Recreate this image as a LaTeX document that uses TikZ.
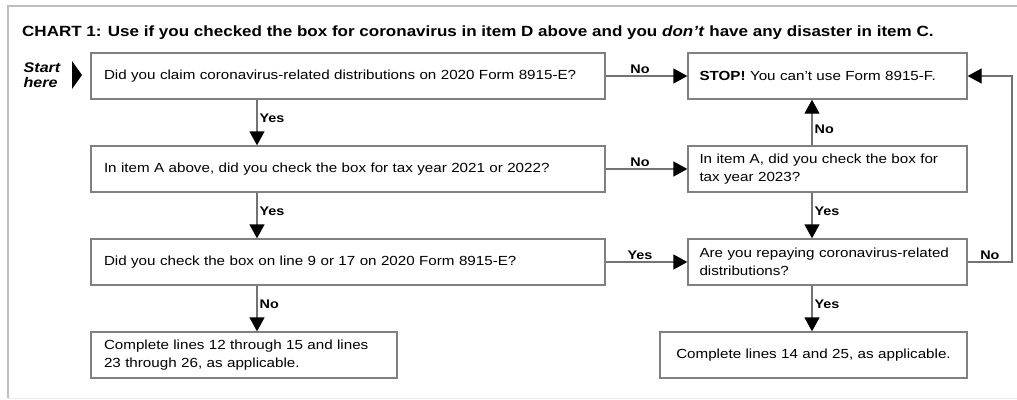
\documentclass[tikz,border=0pt]{standalone}
\usepackage{fontspec}
\setmainfont{Liberation Sans}[FakeStretch=1.15]
\usetikzlibrary{arrows.meta}

\tikzset{
    qbox/.style={rectangle, draw=black!50, line width=1.3pt, minimum height=46pt, inner xsep=13pt, align=left, font=\fontsize{13.2}{17.5}\selectfont},
    arr/.style={draw=black!55, line width=1.3pt, -{Triangle[length=14pt, width=15pt, color=black]}},
    lbl/.style={font=\bfseries\fontsize{12.5}{14}\selectfont, inner sep=2pt}
}

\begin{document}
\begin{tikzpicture}[x=1pt, y=-1pt]
            \useasboundingbox (0, 0) rectangle (1017, 399);
            \draw[black!25, line width=2pt] (1017, 6) -- (8, 6) -- (8, 398);
            \draw[black!8, line width=1pt] (8, 398) -- (1017, 398);

            \node[anchor=base west, font=\bfseries\fontsize{14.8}{16}\selectfont, inner sep=0pt] (title) at (22, 36)
                {CHART 1: Use if you checked the box for coronavirus in item D above and you \textit{don't} have any disaster in item C.};

            \node[align=left, font=\bfseries\itshape\fontsize{14}{15}\selectfont, inner sep=0pt] (start) at (42, 75) {Start\\here};
            \fill (72, 61) -- (82, 75) -- (72, 89) -- cycle;

            % left column
            \node[qbox, text width=488pt] (q1) at (348, 76) {Did you claim coronavirus-related distributions on 2020 Form 8915-E?};
            \node[qbox, text width=488pt] (q2) at (348, 169) {In item A above, did you check the box for tax year 2021 or 2022?};
            \node[qbox, text width=488pt] (q3) at (348, 262) {Did you check the box on line 9 or 17 on 2020 Form 8915-E?};
            \node[qbox, text width=280pt] (endl) at (244, 355) {Complete lines 12 through 15 and lines\\23 through 26, as applicable.};

            % right column
            \node[qbox, text width=256pt, inner xsep=11.5pt] (stop) at (827.5, 76) {\textbf{STOP!} You can't use Form 8915-F.};
            \node[qbox, text width=256pt, inner xsep=11.5pt] (q4) at (827.5, 169) {In item A, did you check the box for\\tax year 2023?};
            \node[qbox, text width=256pt, inner xsep=11.5pt] (q5) at (827.5, 262) {Are you repaying coronavirus-related\\distributions?};
            \node[qbox, text width=281pt, align=center] (endr) at (813.5, 355) {Complete lines 14 and 25, as applicable.};

            \coordinate (lx) at (257, 0);
            \coordinate (rx) at (812, 0);
            \coordinate (loop) at (1012, 0);

            \draw[arr] (lx |- q1.south) -- (lx |- q2.north) node[lbl, pos=0.4, right] {Yes};
            \draw[arr] (lx |- q2.south) -- (lx |- q3.north) node[lbl, pos=0.4, right] {Yes};
            \draw[arr] (lx |- q3.south) -- (lx |- endl.north) node[lbl, pos=0.4, right] {No};

            \draw[arr] (q1) -- (stop) node[lbl, pos=0.42, above] {No};
            \draw[arr] (q2) -- (q4) node[lbl, pos=0.42, above] {No};
            \draw[arr] (q3) -- (q5) node[lbl, pos=0.42, above] {Yes};

            \draw[arr] (rx |- q4.north) -- (rx |- stop.south) node[lbl, pos=0.35, right] {No};
            \draw[arr] (rx |- q4.south) -- (rx |- q5.north) node[lbl, pos=0.4, right] {Yes};
            \draw[arr] (rx |- q5.south) -- (rx |- endr.north) node[lbl, pos=0.4, right] {Yes};

            \draw[arr] (q5.east) -- (loop |- q5.east) node[lbl, midway, above] {No} |- (stop.east);
        \end{tikzpicture}
\end{document}
